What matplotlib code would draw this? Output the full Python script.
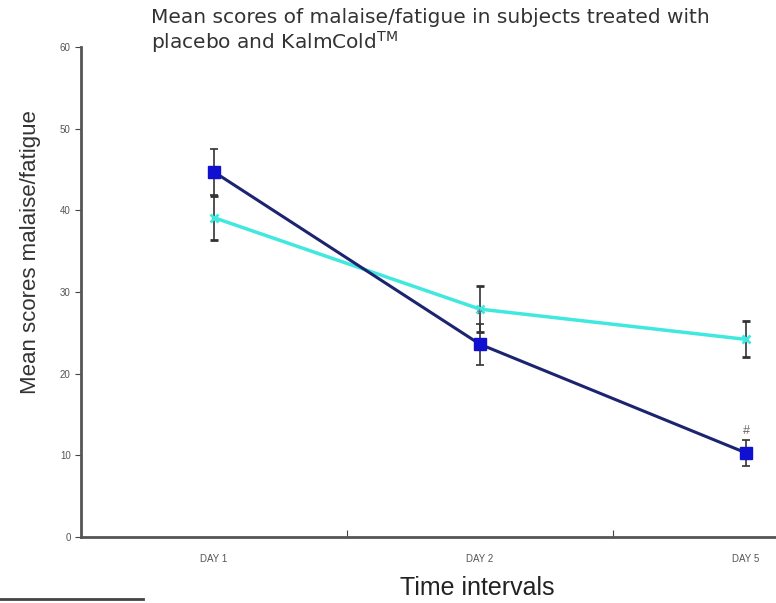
import matplotlib
matplotlib.use("Agg")
import matplotlib.pyplot as plt
from matplotlib.lines import Line2D

days = ["DAY 1", "DAY 2", "DAY 5"]
kalmcold = [44.7, 23.6, 10.3]
kalmcold_err = [2.8, 2.5, 1.6]
placebo = [39.1, 27.9, 24.2]
placebo_err = [2.7, 2.8, 2.2]
marks = ["*", "#"]  # significance markers for day 2 and day 5

plt.rcParams['font.family'] = ['Liberation Sans', 'DejaVu Sans']

fig = plt.figure(figsize=(7.76, 6.03), dpi=100)
ax = fig.add_axes([81 / 776, 1 - 537 / 603, 798 / 776, 490 / 603])

x = list(range(len(days)))
ax.errorbar(x, placebo, yerr=placebo_err, color='#40e8e0', lw=2.5,
            marker='x', ms=6, mew=2, ecolor='#333333', elinewidth=1.2,
            capsize=3, capthick=1.2, zorder=2)
ax.errorbar(x, kalmcold, yerr=kalmcold_err, color='#1c2470', lw=2.2,
            marker='s', ms=8, mfc='#1010d0', mec='#1010d0',
            ecolor='#333333', elinewidth=1.2, capsize=3, capthick=1.2, zorder=3)

ax.text(x[1], kalmcold[1] + kalmcold_err[1] + 0.3, marks[0], ha='center',
        va='bottom', fontsize=10, color='#666666')
ax.text(x[2], kalmcold[2] + kalmcold_err[2] + 0.3, marks[1], ha='center',
        va='bottom', fontsize=9, color='#666666')

ax.set_xlim(-0.5, 2.5)
ax.set_ylim(0, 60)
ax.set_yticks(range(0, 61, 10))
ax.set_xticks([0.5, 1.5], minor=False)
ax.set_xticklabels([])
ax.set_xticks(x, minor=True)
ax.set_xticklabels(days, minor=True)
ax.tick_params(axis='x', which='minor', length=0, pad=12, labelsize=7,
               labelcolor='#555555')
ax.tick_params(axis='x', which='major', direction='in', length=5,
               color='#444444')
ax.tick_params(axis='y', direction='out', length=4, labelsize=7,
               labelcolor='#555555', color='#444444')

for s in ['top', 'right']:
    ax.spines[s].set_visible(False)
for s in ['left', 'bottom']:
    ax.spines[s].set_linewidth(2)
    ax.spines[s].set_color('#555555')

fig.text(151 / 776, 1 - 8 / 603,
         "Mean scores of malaise/fatigue in subjects treated with\n"
         "placebo and KalmCold$^{\\mathrm{TM}}$",
         ha='left', va='top', fontsize=14.5, color='#333333',
         family=['DejaVu Sans'], linespacing=1.1)
fig.text(31 / 776, 1 - 252 / 603, "Mean scores malaise/fatigue",
         rotation=90, ha='center', va='center', fontsize=16, color='#333333')
fig.text(477 / 776, 1 - 588 / 603, "Time intervals", ha='center',
         va='center', fontsize=18, color='#222222')

fig.add_artist(Line2D([0, 143 / 776], [1 - 599 / 603, 1 - 599 / 603],
                      color='#444444', lw=2))

fig.savefig("out.png", dpi=100)
